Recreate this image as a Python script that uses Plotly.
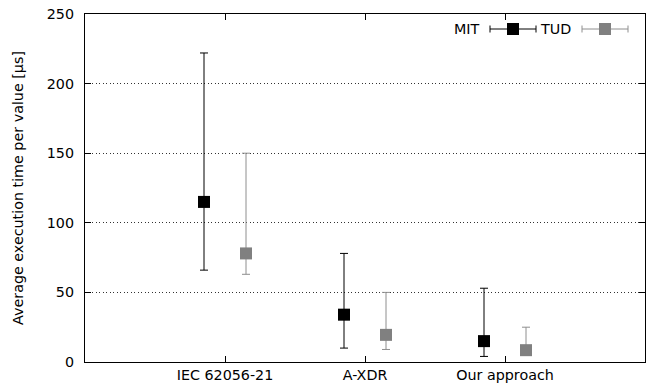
import plotly.graph_objects as go

categories = ["IEC 62056-21", "A-XDR", "Our approach"]
series_names = ["MIT", "TUD"]
mit_mean = [115, 34, 15]
mit_max = [222, 78, 53]
mit_min = [66, 10, 4]
tud_mean = [78, 19.5, 8.5]
tud_max = [150, 50, 25]
tud_min = [63, 9, 6]
y_ticks = [0, 50, 100, 150, 200, 250]

FONT = "DejaVu Sans"
FS = 14.3
W, H = 649, 388
ML, MR, MT, MB = 85, 4, 14, 26
PW, PH = W - ML - MR, H - MT - MB

marker_colors = ["#000000", "#808080"]
err_colors = ["#000000", "#8e8e8e"]
offsets = [-0.15, 0.15]

fig = go.Figure()
for name, means, mx, mn, mc, ec, off in [
    ("MIT", mit_mean, mit_max, mit_min, marker_colors[0], err_colors[0], offsets[0]),
    ("TUD", tud_mean, tud_max, tud_min, marker_colors[1], err_colors[1], offsets[1]),
]:
    xs = [i + off for i in range(len(categories))]
    fig.add_trace(go.Scatter(
        x=xs, y=means, mode="markers", name=name, showlegend=False,
        marker=dict(symbol="square", size=12, color=mc, line=dict(width=0)),
        error_y=dict(type="data", symmetric=False,
                     array=[a - m for a, m in zip(mx, means)],
                     arrayminus=[m - b for m, b in zip(means, mn)],
                     color=ec, thickness=1, width=4),
    ))

def px2paper(px, py):
    return (px - ML) / PW, (H - MB - py) / PH

shapes = []
annotations = []
legend_items = [
    ("MIT", 482, 490, 536, marker_colors[0], err_colors[0]),
    ("TUD", 573, 582, 628, marker_colors[1], err_colors[1]),
]
ly = 29
for name, text_right, x0, x1, mc, ec in legend_items:
    tx, ty = px2paper(text_right, ly)
    annotations.append(dict(x=tx, y=ty, xref="paper", yref="paper", text=name,
                            showarrow=False, xanchor="right", yanchor="middle",
                            font=dict(family=FONT, size=FS, color="#000")))
    a0 = px2paper(x0, ly); a1 = px2paper(x1, ly)
    shapes.append(dict(type="line", xref="paper", yref="paper", x0=a0[0], y0=a0[1], x1=a1[0], y1=a1[1],
                       line=dict(color=ec, width=1)))
    for xc in (x0, x1):
        b0 = px2paper(xc, ly - 3.5); b1 = px2paper(xc, ly + 3.5)
        shapes.append(dict(type="line", xref="paper", yref="paper", x0=b0[0], y0=b0[1], x1=b1[0], y1=b1[1],
                           line=dict(color=ec, width=1)))
    cx = (x0 + x1) / 2
    s0 = px2paper(cx - 6, ly + 6); s1 = px2paper(cx + 6, ly - 6)
    shapes.append(dict(type="rect", xref="paper", yref="paper", x0=s0[0], y0=s0[1], x1=s1[0], y1=s1[1],
                       fillcolor=mc, line=dict(width=0)))

fig.update_layout(
    width=W, height=H,
    margin=dict(l=ML, r=MR, t=MT, b=MB),
    paper_bgcolor="white", plot_bgcolor="white",
    font=dict(family=FONT, size=FS, color="#000"),
    shapes=shapes, annotations=annotations,
    showlegend=False,
)
fig.update_xaxes(
    range=[-1, 3], tickvals=list(range(len(categories))), ticktext=categories,
    showgrid=False, zeroline=False, showline=True, linecolor="#000", linewidth=1.3,
    mirror="ticks", ticks="inside", ticklen=6, tickcolor="#000", tickwidth=1,
)
fig.update_yaxes(
    range=[0, 250], tickvals=y_ticks,
    showgrid=True, gridcolor="#333", griddash="1px,2.5px", gridwidth=1,
    zeroline=False, showline=True, linecolor="#000", linewidth=1.3,
    mirror="ticks", ticks="inside", ticklen=6, tickcolor="#000", tickwidth=1,
    ticklabelstandoff=7,
    title=dict(text="Average execution time per value [µs]", standoff=19,
               font=dict(family=FONT, size=FS)),
)

fig.write_html("out.html")
